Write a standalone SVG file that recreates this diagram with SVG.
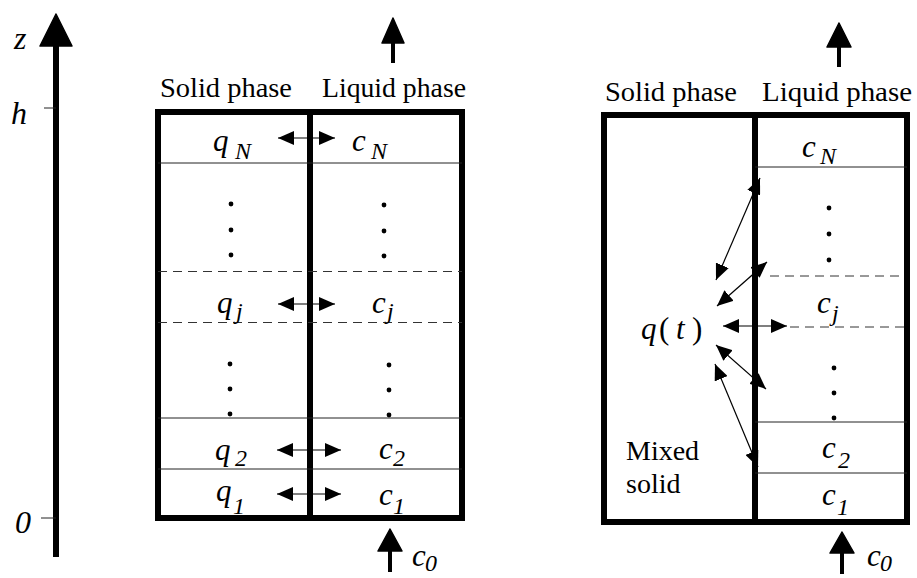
<svg xmlns="http://www.w3.org/2000/svg" width="917" height="578" viewBox="0 0 917 578">
<defs>
<style>
.thick{stroke:#000;stroke-width:6;fill:none;stroke-linecap:square}
.thin{stroke:#222;stroke-width:1;fill:none}
.dash{stroke:#333;stroke-width:1;fill:none;stroke-dasharray:9 6}
.lbl{font-family:"Liberation Serif","Times New Roman",serif;font-size:28px;fill:#000}
.var{font-family:"Liberation Serif","Times New Roman",serif;font-style:italic;font-size:31px;fill:#000}
.sub{font-size:24px}
.ax{font-family:"Liberation Serif","Times New Roman",serif;font-style:italic;font-size:32px;fill:#000}
.dot{fill:#000}
.arr{stroke:#000;stroke-width:1.2;fill:none;marker-start:url(#ah);marker-end:url(#ah)}
.flow{fill:#000;stroke:#000;stroke-linejoin:round;stroke-width:1.5}
</style>
<marker id="ah" viewBox="0 0 16 14" refX="16" refY="7" markerWidth="16" markerHeight="14" markerUnits="userSpaceOnUse" orient="auto-start-reverse"><path d="M0,0 L16,7 L0,14 z" fill="#000"/></marker>
</defs>
<rect width="917" height="578" fill="#fff"/>

<g id="z-axis">
<line x1="56" y1="44" x2="56" y2="557" stroke="#000" stroke-width="6"/>
<path class="flow" d="M56,14 L40,46 L72,46 z"/>
<line class="thin" x1="44" y1="108" x2="56" y2="108"/>
<line class="thin" x1="41" y1="518" x2="56" y2="518"/>
<text class="ax" x="14" y="49">z</text>
<text class="ax" x="11" y="124">h</text>
<text class="ax" x="15" y="533">0</text>
</g>

<g id="left-column">
<text class="lbl" x="160" y="97" textLength="132" lengthAdjust="spacingAndGlyphs">Solid phase</text>
<text class="lbl" x="322" y="97" textLength="144" lengthAdjust="spacingAndGlyphs">Liquid phase</text>
<rect class="thick" x="158" y="112" width="304" height="406"/>
<line class="thick" x1="310" y1="112" x2="310" y2="518"/>
<line class="thin" x1="158" y1="163" x2="462" y2="163"/>
<line class="dash" x1="158" y1="271.5" x2="462" y2="271.5"/>
<line class="dash" x1="158" y1="322.5" x2="462" y2="322.5"/>
<line class="thin" x1="158" y1="418" x2="462" y2="418"/>
<line class="thin" x1="158" y1="469" x2="462" y2="469"/>
<g id="left-dots">
<circle class="dot" cx="231" cy="204" r="2.4"/><circle class="dot" cx="231" cy="230" r="2.4"/><circle class="dot" cx="231" cy="255" r="2.4"/>
<circle class="dot" cx="384" cy="205" r="2.4"/><circle class="dot" cx="384" cy="231" r="2.4"/><circle class="dot" cx="384" cy="256" r="2.4"/>
<circle class="dot" cx="230" cy="364" r="2.4"/><circle class="dot" cx="230" cy="389" r="2.4"/><circle class="dot" cx="230" cy="414" r="2.4"/>
<circle class="dot" cx="389" cy="365" r="2.4"/><circle class="dot" cx="389" cy="390" r="2.4"/><circle class="dot" cx="389" cy="415" r="2.4"/>
</g>
<text class="var" x="213" y="151">q<tspan class="sub" x="235" y="159">N</tspan></text>
<text class="var" x="352" y="151">c<tspan class="sub" x="371" y="159">N</tspan></text>
<text class="var" x="217" y="313">q<tspan class="sub" x="236" y="319">j</tspan></text>
<text class="var" x="372" y="313">c<tspan class="sub" x="387" y="319">j</tspan></text>
<text class="var" x="215" y="460">q<tspan class="sub" x="235" y="466">2</tspan></text>
<text class="var" x="379" y="459">c<tspan class="sub" x="393" y="466">2</tspan></text>
<text class="var" x="216" y="501">q<tspan class="sub" x="233" y="514">1</tspan></text>
<text class="var" x="379" y="505">c<tspan class="sub" x="393" y="514">1</tspan></text>
</g>

<g id="right-column">
<text class="lbl" x="605" y="101" textLength="132" lengthAdjust="spacingAndGlyphs">Solid phase</text>
<text class="lbl" x="762" y="101" textLength="150" lengthAdjust="spacingAndGlyphs">Liquid phase</text>
<rect class="thick" x="604" y="115" width="303" height="407"/>
<line class="thick" x1="755" y1="115" x2="755" y2="522"/>
<line class="thin" x1="755" y1="167" x2="907" y2="167"/>
<line class="dash" x1="770" y1="276" x2="905" y2="276"/>
<line class="dash" x1="790" y1="327" x2="905" y2="327"/>
<line class="thin" x1="755" y1="422" x2="907" y2="422"/>
<line class="thin" x1="755" y1="473" x2="907" y2="473"/>
<g id="right-dots">
<circle class="dot" cx="829" cy="208" r="2.4"/><circle class="dot" cx="829" cy="234" r="2.4"/><circle class="dot" cx="829" cy="260" r="2.4"/>
<circle class="dot" cx="834" cy="368" r="2.4"/><circle class="dot" cx="834" cy="393" r="2.4"/><circle class="dot" cx="834" cy="418" r="2.4"/>
</g>
<text class="var" x="802" y="157">c<tspan class="sub" x="820" y="164">N</tspan></text>
<text class="var" x="817" y="313">c<tspan class="sub" x="832" y="321">j</tspan></text>
<text class="var" x="822" y="458">c<tspan class="sub" x="838" y="468">2</tspan></text>
<text class="var" x="822" y="505">c<tspan class="sub" x="837" y="515">1</tspan></text>
<text class="var" x="641" y="339">q<tspan x="659" font-style="normal">(</tspan><tspan x="676">t</tspan><tspan x="692" font-style="normal">)</tspan></text>
<text class="lbl" x="626" y="460" font-size="31">Mixed</text>
<text class="lbl" x="626" y="493" font-size="31">solid</text>
</g>

<g id="connectors">
<line class="arr" x1="278" y1="138" x2="335" y2="138"/>
<line class="arr" x1="278" y1="304" x2="335" y2="304"/>
<line class="arr" x1="277" y1="450" x2="341" y2="450"/>
<line class="arr" x1="277" y1="494" x2="341" y2="494"/>
<line class="arr" x1="716" y1="280" x2="760" y2="178"/>
<line class="arr" x1="717" y1="306" x2="767" y2="262"/>
<line class="arr" x1="723" y1="326" x2="787" y2="326"/>
<line class="arr" x1="716" y1="345" x2="766" y2="389"/>
<line class="arr" x1="715" y1="364" x2="758" y2="467"/>
<g id="flow-left-top"><line x1="393" y1="42" x2="393" y2="63" stroke="#000" stroke-width="4"/><path class="flow" d="M393,18 L382,43 L404,43 z"/></g>
<g id="flow-right-top"><line x1="839" y1="46" x2="839" y2="67" stroke="#000" stroke-width="4"/><path class="flow" d="M839,23 L827,47 L851,47 z"/></g>
<g id="flow-left-bottom"><line x1="390" y1="550" x2="390" y2="572" stroke="#000" stroke-width="4"/><path class="flow" d="M390,529 L378,551 L402,551 z"/></g>
<g id="flow-right-bottom"><line x1="842" y1="552" x2="842" y2="574" stroke="#000" stroke-width="4"/><path class="flow" d="M842,532 L830,553 L854,553 z"/></g>
</g>
<text class="var" x="412" y="566" font-size="27">c<tspan class="sub" x="425" y="571" font-size="21">0</tspan></text>
<text class="var" x="867" y="566" font-size="27">c<tspan class="sub" x="880" y="571" font-size="21">0</tspan></text>
</svg>
